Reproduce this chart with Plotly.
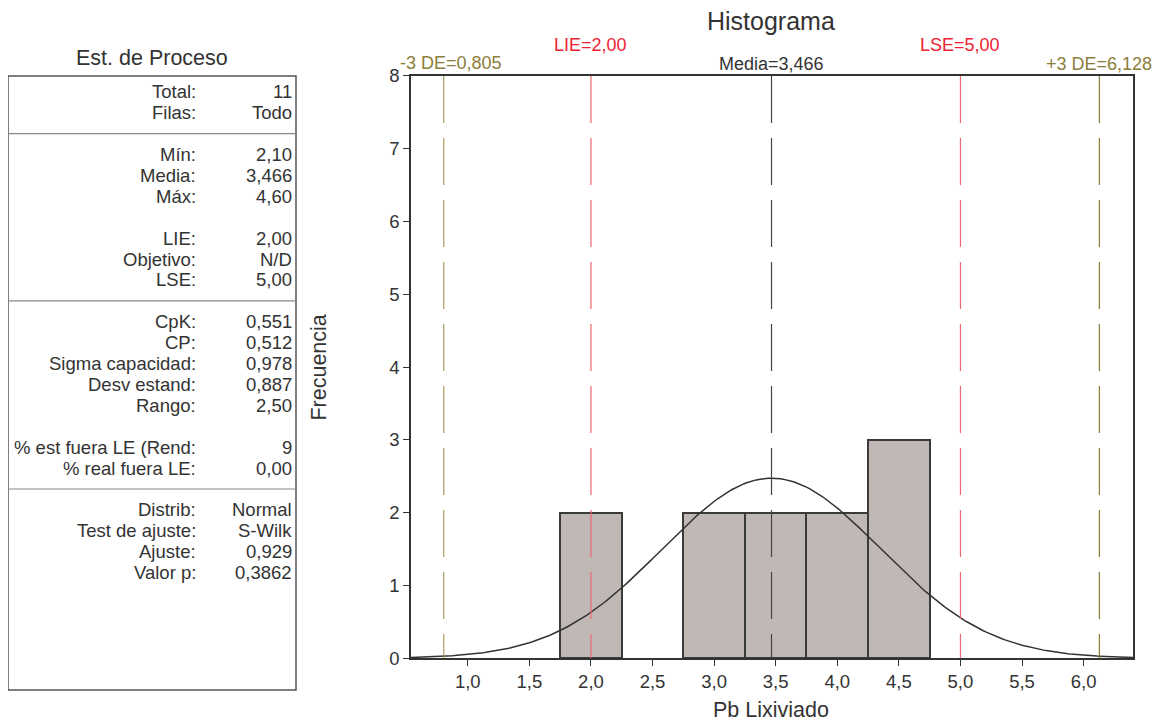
import numpy as np
import plotly.graph_objects as go

W, H = 1169, 727

# ---------------- data ----------------
bin_centers = [2.0, 3.0, 3.5, 4.0, 4.5]
bin_counts = [2, 2, 2, 2, 3]
bin_width = 0.5
n_total = 11
mean = 3.466
sd = 0.887
lie, lse = 2.00, 5.00
minus3 = 0.805
plus3 = 6.128
x_ticks = [1.0, 1.5, 2.0, 2.5, 3.0, 3.5, 4.0, 4.5, 5.0, 5.5, 6.0]
y_ticks = [0, 1, 2, 3, 4, 5, 6, 7, 8]

stat_labels = ["Total:", "Filas:", None, "Mín:", "Media:", "Máx:", None, "LIE:", "Objetivo:", "LSE:",
               None, "CpK:", "CP:", "Sigma capacidad:", "Desv estand:", "Rango:", None,
               "% est fuera LE (Rend:", "% real fuera LE:", None, "Distrib:", "Test de ajuste:",
               "Ajuste:", "Valor p:"]
stat_values = ["11", "Todo", None, "2,10", "3,466", "4,60", None, "2,00", "N/D", "5,00",
               None, "0,551", "0,512", "0,978", "0,887", "2,50", None,
               "9", "0,00", None, "Normal", "S-Wilk", "0,929", "0,3862"]
divider_rows = [2, 10, 19]

# ---------------- helpers (target pixel -> paper) ----------------
OFF_X, OFF_Y, EFF_H = 8.0, 15.8, 709.3

def px(x):
    return (x - OFF_X) / W

def py(y):
    return 1 - (y - OFF_Y) / EFF_H

FONT = "Arial, Liberation Sans, sans-serif"
TXT = "#333333"

fig = go.Figure()

fig.add_trace(go.Bar(
    x=bin_centers, y=bin_counts, width=bin_width,
    marker=dict(color="#c0b8b5", line=dict(color="#3a3a3a", width=2)),
    showlegend=False, hoverinfo="x+y"))

# fitted normal curve
xr = [0.539, 6.401]
xs = np.linspace(xr[0], xr[1], 300)
ys = n_total * bin_width * np.exp(-0.5 * ((xs - mean) / sd) ** 2) / (sd * np.sqrt(2 * np.pi))
fig.add_trace(go.Scatter(x=xs, y=ys, mode="lines", line=dict(color="#333333", width=1.5),
                         showlegend=False, hoverinfo="skip"))

# vertical reference lines
ref_lines = [
    (minus3, "#a89a5a", "-3 DE=0,805", "#8b7d3a", 60, 7),
    (lie, "#ee6670", "LIE=2,00", "#ee2233", 42, 0),
    (mean, "#444444", "Media=3,466", "#333333", 61, 0),
    (lse, "#ee6670", "LSE=5,00", "#ee2233", 42, 0),
    (plus3, "#8b7d3a", "+3 DE=6,128", "#8b7d3a", 61, 0),
]
for xv, lc, label, tc, ty, xsh in ref_lines:
    fig.add_shape(type="line", x0=xv, x1=xv, y0=8, y1=0, xref="x", yref="y",
                  line=dict(color=lc, width=1.2, dash="47px,15px"), layer="above")
    fig.add_annotation(x=xv, xref="x", y=py(ty), yref="paper", text=label, showarrow=False, xshift=xsh,
                       font=dict(color=tc, size=18, family=FONT), xanchor="center", yanchor="middle")

# ---------------- left stats panel ----------------
box_l, box_r, box_t, box_b = 8, 296, 73, 690
fig.add_shape(type="rect", xref="paper", yref="paper", x0=px(box_l), x1=px(box_r), y0=py(box_b), y1=py(box_t),
              line=dict(color="#555555", width=1.5))
row0, step = 89, 21
for r in divider_rows:
    yy = row0 + r * step
    fig.add_shape(type="line", xref="paper", yref="paper", x0=px(box_l), x1=px(box_r), y0=py(yy), y1=py(yy),
                  line=dict(color="#888888", width=1.2))
for i, (lab, val) in enumerate(zip(stat_labels, stat_values)):
    if lab is None:
        continue
    yy = row0 + i * step
    fig.add_annotation(x=px(198), y=py(yy), xref="paper", yref="paper", text=lab, showarrow=False,
                       xanchor="right", yanchor="middle", font=dict(size=18.5, color=TXT, family=FONT))
    fig.add_annotation(x=px(294), y=py(yy), xref="paper", yref="paper", text=val, showarrow=False,
                       xanchor="right", yanchor="middle", font=dict(size=18.5, color=TXT, family=FONT))
fig.add_annotation(x=px(152), y=py(55), xref="paper", yref="paper", text="Est. de Proceso", showarrow=False,
                   xanchor="center", yanchor="middle", font=dict(size=21.5, color=TXT, family=FONT))

# titles
fig.add_annotation(x=px(771), y=py(18), xref="paper", yref="paper", text="Histograma", showarrow=False,
                   xanchor="center", yanchor="middle", font=dict(size=25, color=TXT, family=FONT))
fig.add_annotation(x=px(771), y=py(710), xref="paper", yref="paper", text="Pb Lixiviado", showarrow=False,
                   xanchor="center", yanchor="middle", font=dict(size=21.5, color=TXT, family=FONT))
fig.add_annotation(x=px(319), y=py(366), xref="paper", yref="paper", text="Frecuencia", showarrow=False,
                   textangle=-90, xanchor="center", yanchor="middle", font=dict(size=21.5, color=TXT, family=FONT))

axis_common = dict(showgrid=False, zeroline=False, showline=True, linecolor="#333333", linewidth=1.5,
                   mirror=True, ticks="outside", ticklen=6, tickcolor="#333333", tickwidth=1.2,
                   tickfont=dict(size=18.5, color=TXT, family=FONT))
fig.update_layout(
    width=W, height=H,
    margin=dict(l=0, r=0, t=0, b=0),
    paper_bgcolor="white", plot_bgcolor="white",
    separators=", ",
    bargap=0,
    font=dict(family=FONT, color=TXT),
    xaxis=dict(domain=[px(411), px(1133)], range=xr, tickvals=x_ticks, tickformat=".1f", **axis_common),
    yaxis=dict(domain=[py(658), py(73)], range=[0, 8], tickvals=y_ticks, **axis_common),
)

fig.write_html("out.html")
